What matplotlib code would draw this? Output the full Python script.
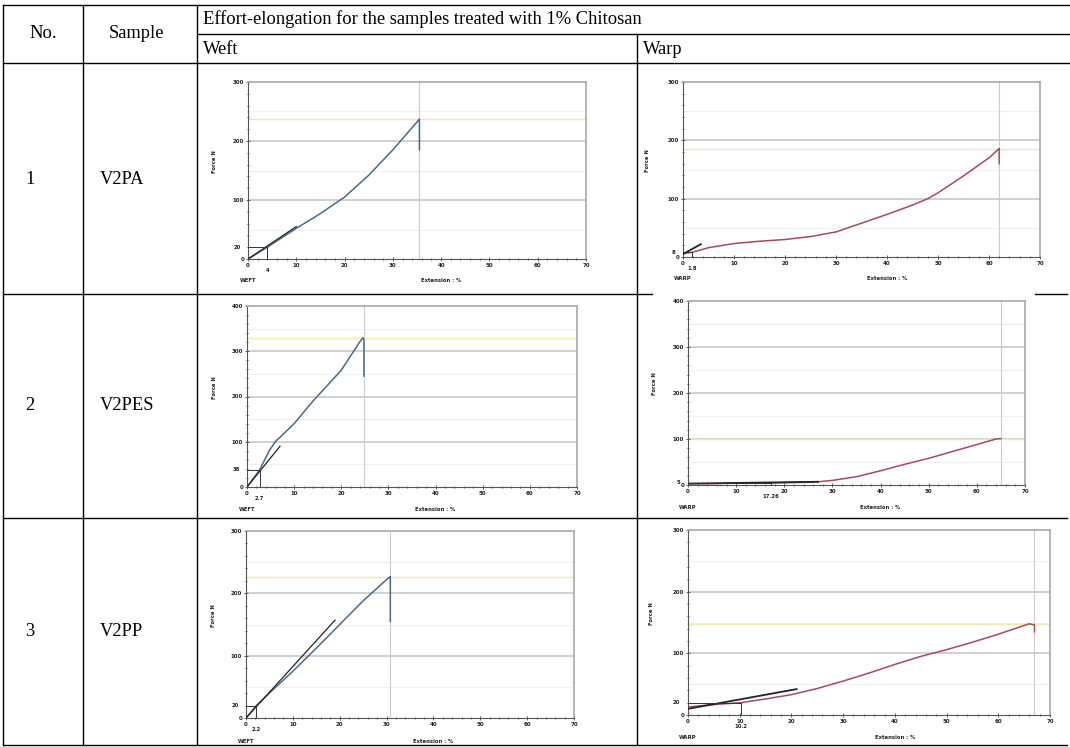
import matplotlib
matplotlib.use("Agg")
import matplotlib.pyplot as plt
from matplotlib.lines import Line2D
from matplotlib.ticker import MultipleLocator

W, H = 1070, 747

# table text
header_no = "No."
header_sample = "Sample"
header_title = "Effort-elongation for the samples treated with 1% Chitosan"
header_dirs = ["Weft", "Warp"]
row_numbers = ["1", "2", "3"]
row_samples = ["V2PA", "V2PES", "V2PP"]

# curves: extension (%) vs force (N)
weft_pa_x = [0, 4, 10, 15, 20, 25, 30, 35.5, 35.5]
weft_pa_y = [0, 20, 52, 77, 105, 142, 185, 237, 185]
warp_pa_x = [0, 1.8, 5, 10, 15, 20, 25, 30, 35, 40, 45, 48, 50, 55, 60, 62, 62]
warp_pa_y = [6, 8, 16, 23, 27, 30, 35, 43, 58, 73, 89, 100, 110, 139, 170, 186, 160]

weft_pes_x = [0, 2.7, 4.7, 6, 10, 14, 20, 24, 24.6, 24.8, 24.8]
weft_pes_y = [0, 38, 80, 100, 140, 190, 258, 322, 330, 325, 245]
warp_pes_x = [0, 5, 10, 15, 20, 25, 27, 30, 35, 40, 45, 50, 55, 60, 64, 65]
warp_pes_y = [3, 3, 4, 4, 5, 6, 7, 10, 18, 31, 45, 58, 73, 88, 100, 101]

weft_pp_x = [0, 2.2, 5, 10, 15, 20, 25, 30, 30.8, 30.8]
weft_pp_y = [0, 20, 40, 75, 112, 150, 188, 222, 227, 155]
warp_pp_x = [0, 5, 10.2, 15, 20, 25, 30, 35, 40, 45, 50, 55, 60, 66, 67, 67]
warp_pp_y = [13, 17, 20, 26, 33, 43, 55, 68, 82, 95, 106, 118, 131, 148, 146, 135]

# construction point (extension, force) and tangent line ends
marks = [(4, 20), (1.8, 8), (2.7, 38), (17.26, 5), (2.2, 20), (10.2, 20)]
tangents = [((0, 0), (10, 55)), ((0, 5), (3.5, 22)), ((0, 0), (7, 90)),
            ((0, 3), (27, 7)), ((0, 0), (19, 157)), ((0, 10), (21, 42))]
y_tops = [300, 300, 400, 400, 300, 300]
kinds = ["WEFT", "WARP", "WEFT", "WARP", "WEFT", "WARP"]

curves = [(weft_pa_x, weft_pa_y), (warp_pa_x, warp_pa_y),
          (weft_pes_x, weft_pes_y), (warp_pes_x, warp_pes_y),
          (weft_pp_x, weft_pp_y), (warp_pp_x, warp_pp_y)]

# axes boxes in pixels: left, top, right, bottom
boxes = [(248, 82, 586, 259), (683, 82, 1040, 257),
         (247, 306, 577, 487), (688, 301, 1025, 485),
         (246, 531, 574, 718), (688, 530, 1050, 715)]

WEFT_C = "#4a6a88"
WARP_C = "#a84a58"
small = dict(fontsize=3.8, fontweight="bold", color="#222222")

fig = plt.figure(figsize=(W / 100, H / 100), dpi=100)
serif = ["Liberation Serif", "DejaVu Serif"]


def fx(x):
    return x / W


def fy(y):
    return 1 - y / H


def hline(y, x0, x1):
    fig.add_artist(Line2D([fx(x0), fx(x1)], [fy(y), fy(y)], color="black", lw=1.0))


def vline(x, y0, y1):
    fig.add_artist(Line2D([fx(x), fx(x)], [fy(y0), fy(y1)], color="black", lw=1.0))


def draw_chart(ax, xs, ys, mark, tan, top, kind):
    color = WEFT_C if kind == "WEFT" else WARP_C
    ax.set_xlim(0, 70)
    ax.set_ylim(0, top)
    for g in range(100, top, 100):
        ax.axhline(g, color="#c4c4c4", lw=1.1, zorder=1)
    for g in range(50, top, 100):
        ax.axhline(g, color="#f1f1f1", lw=0.8, zorder=1)
    peak = max(ys)
    ax.axhline(peak, color="#eeeab0", lw=1.0, zorder=1)
    ax.axvline(xs[-1], color="#c9ccd4", lw=0.8, zorder=1)
    (tx0, ty0), (tx1, ty1) = tan
    ax.plot([tx0, tx1], [ty0, ty1], color="#222222", lw=0.9 if kind == "WEFT" else 1.3, zorder=3)
    ax.plot(xs, ys, color=color, lw=1.1, zorder=2)
    mx, my = mark
    ax.plot([0, mx], [my, my], color="#333333", lw=0.7, zorder=3)
    ax.plot([mx, mx], [0, my], color="#333333", lw=0.7, zorder=3)

    ax.xaxis.set_major_locator(MultipleLocator(10))
    ax.xaxis.set_minor_locator(MultipleLocator(2))
    ax.yaxis.set_major_locator(MultipleLocator(100))
    ax.yaxis.set_minor_locator(MultipleLocator(20))
    ax.tick_params(which="both", direction="inout", length=2.5, width=0.6, color="#444444", pad=1.5)
    ax.tick_params(which="minor", length=1.6)
    ax.tick_params(labelsize=4, labelcolor="#222222")
    for lab in ax.get_xticklabels() + ax.get_yticklabels():
        lab.set_fontweight("bold")
    for side in ["top", "right"]:
        ax.spines[side].set_color("#a8a8a8")
        ax.spines[side].set_linewidth(1.2)
    for side in ["left", "bottom"]:
        ax.spines[side].set_color("#555555")
        ax.spines[side].set_linewidth(0.8)

    ax.text(mx, -top * 0.05, f"{mx:g}", ha="center", va="top", **small)
    ax.text(-1.5, my, f"{my:g}", ha="right", va="center", **small)
    ax.text(0, -top * 0.11, kind, ha="center", va="top", **small)
    ax.text(40, -top * 0.11, "Extension : %", ha="center", va="top", **small)
    ax.text(-7, top * 0.55, "Force N", rotation=90, ha="center", va="center", **small)


for (l, t, r, b), (xs, ys), mark, tan, top, kind in zip(boxes, curves, marks, tangents, y_tops, kinds):
    ax = fig.add_axes([fx(l), fy(b), fx(r - l), (b - t) / H])
    draw_chart(ax, xs, ys, mark, tan, top, kind)

# table rules
hline(5, 3, 1070)
hline(34, 197, 1070)
hline(63, 3, 1070)
hline(294, 3, 652)
hline(294, 1035, 1067)
hline(518, 3, 1067)
hline(745, 3, 1067)
vline(3, 5, 745)
vline(83, 5, 745)
vline(197, 5, 745)
vline(637, 34, 745)

fs = 13.3
fig.text(fx(43), fy(34), header_no, ha="center", va="center", fontsize=fs, family=serif)
fig.text(fx(137), fy(34), header_sample, ha="center", va="center", fontsize=fs, family=serif)
fig.text(fx(203), fy(19), header_title, ha="left", va="center", fontsize=fs, family=serif)
fig.text(fx(203), fy(49), header_dirs[0], ha="left", va="center", fontsize=fs, family=serif)
fig.text(fx(643), fy(49), header_dirs[1], ha="left", va="center", fontsize=fs, family=serif)

row_centres = [180, 406, 631]
for num, name, yc in zip(row_numbers, row_samples, row_centres):
    fig.text(fx(25), fy(yc), num, ha="left", va="center", fontsize=fs, family=serif)
    fig.text(fx(100), fy(yc), name, ha="left", va="center", fontsize=fs, family=serif)

fig.savefig("out.png", dpi=100)
